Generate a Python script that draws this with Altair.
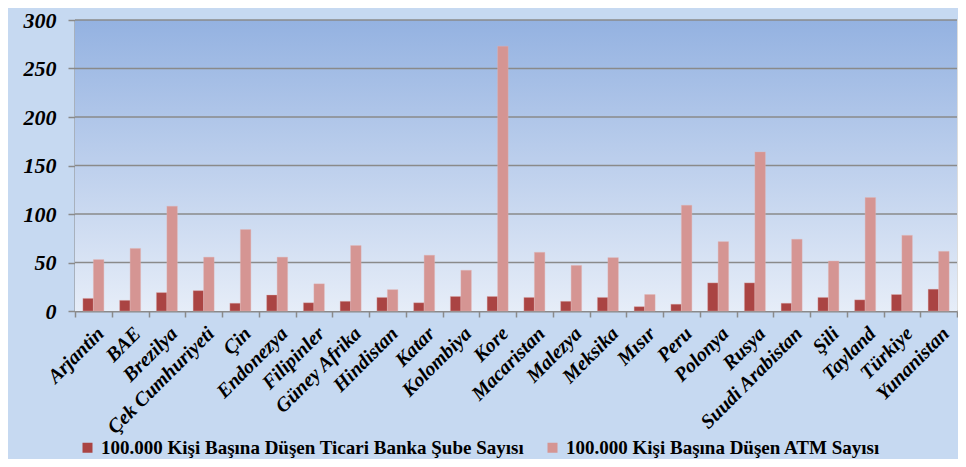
import altair as alt
import pandas as pd

countries = ["Arjantin", "BAE", "Brezilya", "Çek Cumhuriyeti", "Çin", "Endonezya",
             "Filipinler", "Güney Afrika", "Hindistan", "Katar", "Kolombiya", "Kore",
             "Macaristan", "Malezya", "Meksika", "Mısır", "Peru", "Polonya", "Rusya",
             "Suudi Arabistan", "Şili", "Tayland", "Türkiye", "Yunanistan"]
sube = [13, 11, 19, 21, 8, 16.5, 8.5, 10, 14, 8.5, 15, 15,
        14, 10, 14, 4.5, 7, 29, 29, 8, 14, 11.5, 17, 22.5]
atm = [53, 64.5, 108, 55.5, 84, 55.5, 28, 67.5, 22, 57.5, 42, 273,
       60.5, 47, 55, 17, 109, 71.5, 164, 74, 51.5, 117, 78, 61.5]
series = ["100.000 Kişi Başına Düşen Ticari Banka Şube Sayısı",
          "100.000 Kişi Başına Düşen ATM Sayısı"]
colors = ["#aa4443", "#d59593"]
y_ticks = [0, 50, 100, 150, 200, 250, 300]

rows = []
for c, a, b in zip(countries, sube, atm):
    rows.append({"country": c, "series": series[0], "value": a})
    rows.append({"country": c, "series": series[1], "value": b})
df = pd.DataFrame(rows)

W, H = 882, 291
FONT = "Liberation Serif"

bg = alt.Chart(alt.Data(values=[{}])).mark_rect(
    color=alt.LinearGradient(
        gradient="linear", x1=0, y1=0, x2=0, y2=1,
        stops=[alt.GradientStop(offset=0, color="#94b2e1"),
               alt.GradientStop(offset=1, color="#e6edf8")])
).encode(x=alt.value(0), x2=alt.value(W), y=alt.value(0), y2=alt.value(H))

grid = alt.Chart(pd.DataFrame({"v": y_ticks[1:]})).mark_rule(
    color="#8a8a8a", strokeWidth=1.5
).encode(y=alt.Y("v:Q", scale=alt.Scale(domain=[0, 300], nice=False)))

bars = alt.Chart(df).mark_bar(stroke="#e2b5b3", strokeWidth=0.6, strokeOpacity=0.6).encode(
    x=alt.X("country:N", sort=countries, title=None,
            scale=alt.Scale(paddingInner=0, paddingOuter=0),
            axis=alt.Axis(labelAngle=-45, labelFont=FONT, labelFontSize=20,
                          labelFontWeight="bold", labelFontStyle="italic",
                          labelColor="black", tickBand="extent", tickColor="#8a8a8a",
                          tickSize=6, tickWidth=1.5, domainColor="#8a8a8a",
                          domainWidth=2, labelPadding=6, labelOverlap=False,
                          labelLimit=300)),
    xOffset=alt.XOffset("series:N", sort=series,
                        scale=alt.Scale(paddingInner=0, paddingOuter=0.75)),
    y=alt.Y("value:Q", title=None,
            scale=alt.Scale(domain=[0, 300], nice=False),
            axis=alt.Axis(values=y_ticks, grid=False, labelFont=FONT, labelFontSize=22,
                          labelFontWeight="bold", labelFontStyle="italic",
                          labelColor="black", tickColor="#8a8a8a", tickSize=7,
                          tickWidth=1.5, domainColor="#8a8a8a", domainWidth=2,
                          labelPadding=12)),
    color=alt.Color("series:N", sort=series,
                    scale=alt.Scale(domain=series, range=colors),
                    legend=alt.Legend(title=None, orient="none", legendX=3, legendY=418,
                                      direction="horizontal", columns=2,
                                      columnPadding=18, symbolType="square",
                                      symbolSize=100, symbolStrokeWidth=0,
                                      labelFont=FONT, labelFontSize=19,
                                      labelFontWeight="bold", labelColor="black",
                                      labelLimit=600, symbolOpacity=1))
)

chart = alt.layer(bg, grid, bars).properties(
    width=W, height=H, background="#c6d9f1",
    padding={"left": 67, "top": 12, "right": 1, "bottom": 148},
    autosize=alt.AutoSizeParams(type="none")
).configure_view(stroke=None).configure(font=FONT)

chart.save("out.html", embed_options={"renderer": "svg", "actions": False})
